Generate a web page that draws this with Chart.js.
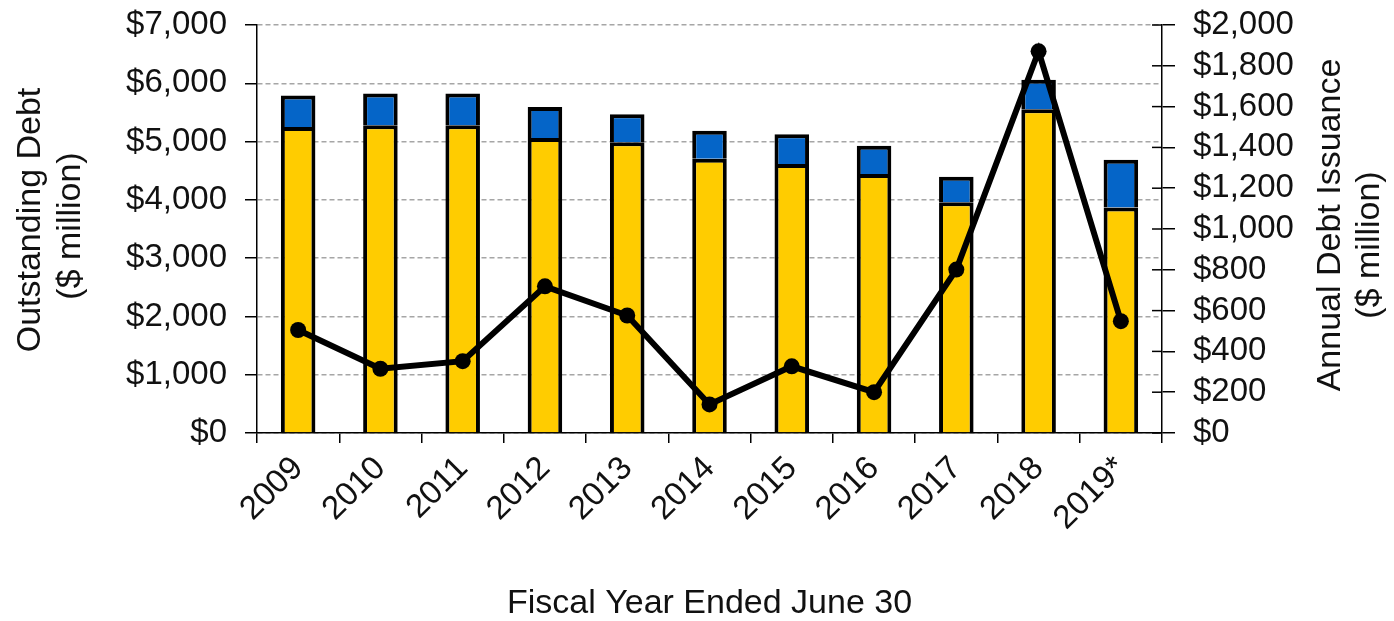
<!DOCTYPE html>
<html>
<head>
<meta charset="utf-8">
<script src="https://cdn.jsdelivr.net/npm/chart.js@4/dist/chart.umd.min.js"></script>
<style>
  html, body { margin: 0; padding: 0; background: #ffffff; }
  #wrap { width: 1394px; height: 621px; }
</style>
</head>
<body>
<div id="wrap"><canvas id="c" width="1394" height="621"></canvas></div>
<script>
// ---- data ----
const categories = ["2009", "2010", "2011", "2012", "2013", "2014", "2015", "2016", "2017", "2018", "2019*"];
const outstandingLower = [5250, 5280, 5280, 5060, 4990, 4705, 4615, 4445, 3960, 5555, 3870];
const outstandingUpper = [540, 545, 545, 535, 480, 480, 510, 485, 435, 505, 820];
const annualIssuance = [505, 315, 352, 719, 576, 140, 327, 200, 801, 1871, 548];
const leftTicks = [0, 1000, 2000, 3000, 4000, 5000, 6000, 7000];
const rightTicks = [0, 200, 400, 600, 800, 1000, 1200, 1400, 1600, 1800, 2000];
const leftTitle = ["Outstanding Debt", "($ million)"];
const rightTitle = ["Annual Debt Issuance", "($ million)"];
const xTitle = "Fiscal Year Ended June 30";

const FONT = "'Liberation Sans', Arial, sans-serif";
const money = v => "$" + Number(v).toLocaleString("en-US");

// vertical axis titles (rotated, reading bottom-to-top on both sides)
const axisTitlePlugin = {
  id: "axisTitles",
  afterDraw(chart) {
    const ctx = chart.ctx;
    const ca = chart.chartArea;
    const mid = (ca.top + ca.bottom) / 2;
    const yl = chart.scales.y, yr = chart.scales.y1;
    const draw = (text, x, y) => {
      ctx.save();
      ctx.translate(x, y);
      ctx.rotate(-Math.PI / 2);
      ctx.fillText(text, 0, 0);
      ctx.restore();
    };
    ctx.save();
    ctx.fillStyle = "#111";
    ctx.font = "34px " + FONT;
    ctx.textAlign = "center";
    ctx.textBaseline = "middle";
    draw(leftTitle[0], yl.left + 31, mid - 9);
    draw(leftTitle[1], yl.left + 71, mid - 3);
    draw(rightTitle[0], yr.right - 63, mid - 4);
    draw(rightTitle[1], yr.right - 24, mid + 16);
    ctx.restore();
  }
};

const crossTickPlugin = {
  id: "crossTicks",
  afterDatasetsDraw(chart) {
    const s = chart.scales.y1;
    const ctx = chart.ctx;
    ctx.save();
    ctx.strokeStyle = "#000";
    ctx.lineWidth = 1.5;
    s.ticks.forEach(t => {
      const y = s.getPixelForValue(t.value);
      ctx.beginPath();
      ctx.moveTo(s.left - 10, y);
      ctx.lineTo(s.left, y);
      ctx.stroke();
    });
    ctx.restore();
  }
};

const noVPad = s => { s.paddingTop = 0; s.paddingBottom = 0; };

new Chart(document.getElementById("c"), {
  data: {
    labels: categories,
    datasets: [
      {
        type: "line",
        label: "Annual Debt Issuance",
        data: annualIssuance,
        yAxisID: "y1",
        borderColor: "#000",
        backgroundColor: "#000",
        borderWidth: 6,
        pointRadius: 8,
        pointBackgroundColor: "#000",
        pointBorderWidth: 0,
        tension: 0,
        order: 0
      },
      {
        type: "bar",
        label: "Outstanding Debt (lower)",
        data: outstandingLower,
        yAxisID: "y",
        backgroundColor: "#FFCC00",
        borderColor: "#000",
        borderWidth: 4,
        stack: "s",
        barPercentage: 0.42,
        categoryPercentage: 1.0,
        order: 1
      },
      {
        type: "bar",
        label: "Outstanding Debt (upper)",
        data: outstandingUpper,
        yAxisID: "y",
        backgroundColor: "#0565C8",
        borderColor: "#000",
        borderWidth: 4,
        stack: "s",
        barPercentage: 0.42,
        categoryPercentage: 1.0,
        order: 1
      }
    ]
  },
  options: {
    responsive: false,
    animation: false,
    devicePixelRatio: 1,
    layout: { padding: { top: 25, left: 0, right: 0, bottom: 0 } },
    plugins: { legend: { display: false }, tooltip: { enabled: false } },
    scales: {
      x: {
        stacked: true,
        afterFit: s => { s.height = 188; },
        grid: { display: true, drawOnChartArea: false, offset: true, tickLength: 10, color: "#000", lineWidth: 1.5 },
        border: { color: "#000", width: 1.5 },
        ticks: {
          autoSkip: false, minRotation: 45, maxRotation: 45, padding: 6,
          color: "#111", font: { family: FONT, size: 33 }
        },
        title: {
          display: true, text: xTitle, color: "#111",
          font: { family: FONT, size: 34, lineHeight: 1.0 }, padding: { top: 0, bottom: 0 }
        }
      },
      y: {
        position: "left",
        stacked: true,
        min: 0, max: 7000,
        afterFit: s => { s.width = 257; noVPad(s); },
        afterBuildTicks: s => { s.ticks = leftTicks.map(v => ({ value: v })); },
        grid: {
          color: "#A6A6A6", lineWidth: 1.5, tickLength: 12,
          tickColor: "#000", tickWidth: 1.5, tickBorderDash: []
        },
        border: { color: "#000", width: 1.5, dash: [5, 3] },
        ticks: {
          autoSkip: false, padding: 18, color: "#111", font: { family: FONT, size: 33 },
          callback: v => money(v)
        },
        title: { display: false }
      },
      y1: {
        position: "right",
        min: 0, max: 2000,
        afterFit: s => { s.width = 232; noVPad(s); },
        afterBuildTicks: s => { s.ticks = rightTicks.map(v => ({ value: v })); },
        grid: { drawOnChartArea: false, tickLength: 13, color: "#000", lineWidth: 1.5 },
        border: { color: "#000", width: 1.5 },
        ticks: {
          autoSkip: false, padding: 18, color: "#111", font: { family: FONT, size: 33 },
          callback: v => money(v)
        }
      }
    }
  },
  plugins: [axisTitlePlugin, crossTickPlugin]
});
</script>
</body>
</html>
